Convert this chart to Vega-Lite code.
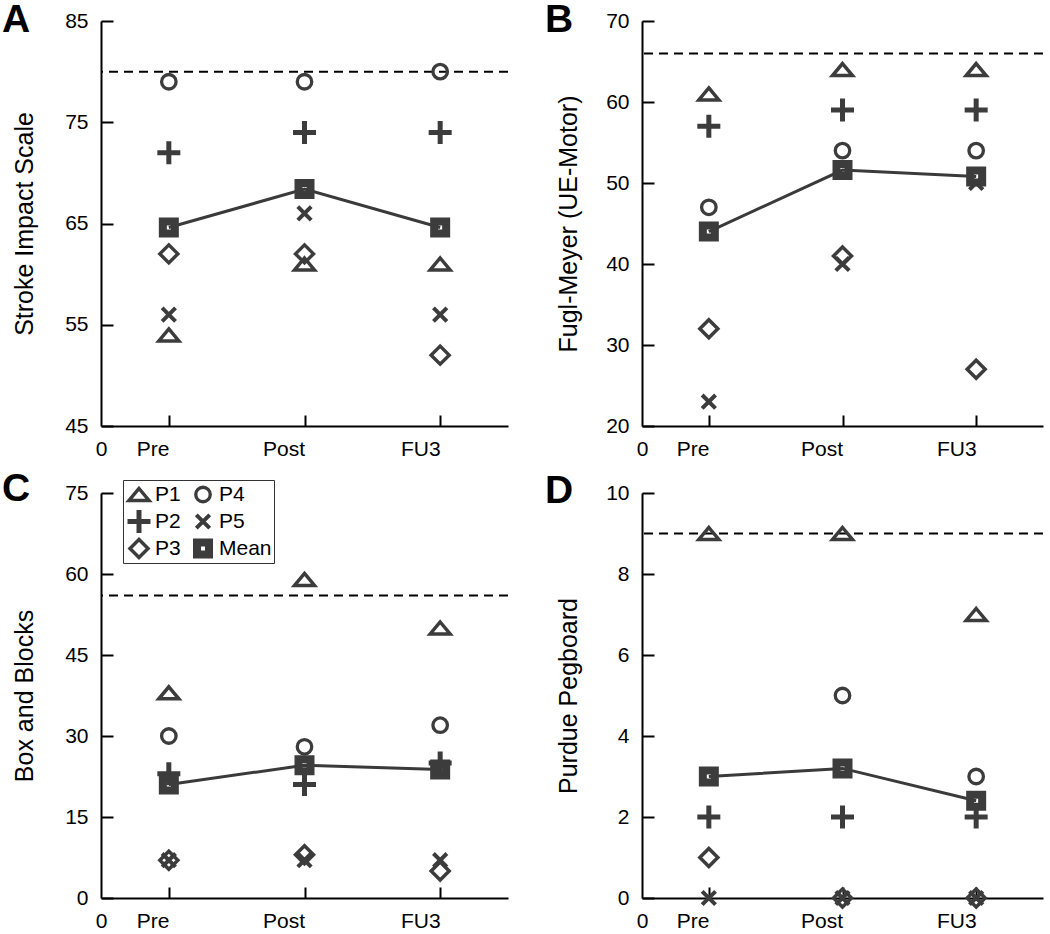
{
  "$schema": "https://vega.github.io/schema/vega-lite/v6.json",
  "padding": {"left": 2, "top": 1, "right": 0, "bottom": 0},
  "background": "white",
  "datasets": {
    "scores": [
      {"measure": "A", "visit": "Pre", "participant": "P1", "score": 54},
      {"measure": "A", "visit": "Pre", "participant": "P2", "score": 72},
      {"measure": "A", "visit": "Pre", "participant": "P3", "score": 62},
      {"measure": "A", "visit": "Pre", "participant": "P4", "score": 79},
      {"measure": "A", "visit": "Pre", "participant": "P5", "score": 56},
      {"measure": "A", "visit": "Pre", "participant": "Mean", "score": 64.6},
      {"measure": "A", "visit": "Post", "participant": "P1", "score": 61},
      {"measure": "A", "visit": "Post", "participant": "P2", "score": 74},
      {"measure": "A", "visit": "Post", "participant": "P3", "score": 62},
      {"measure": "A", "visit": "Post", "participant": "P4", "score": 79},
      {"measure": "A", "visit": "Post", "participant": "P5", "score": 66},
      {"measure": "A", "visit": "Post", "participant": "Mean", "score": 68.4},
      {"measure": "A", "visit": "FU3", "participant": "P1", "score": 61},
      {"measure": "A", "visit": "FU3", "participant": "P2", "score": 74},
      {"measure": "A", "visit": "FU3", "participant": "P3", "score": 52},
      {"measure": "A", "visit": "FU3", "participant": "P4", "score": 80},
      {"measure": "A", "visit": "FU3", "participant": "P5", "score": 56},
      {"measure": "A", "visit": "FU3", "participant": "Mean", "score": 64.6},
      {"measure": "B", "visit": "Pre", "participant": "P1", "score": 61},
      {"measure": "B", "visit": "Pre", "participant": "P2", "score": 57},
      {"measure": "B", "visit": "Pre", "participant": "P3", "score": 32},
      {"measure": "B", "visit": "Pre", "participant": "P4", "score": 47},
      {"measure": "B", "visit": "Pre", "participant": "P5", "score": 23},
      {"measure": "B", "visit": "Pre", "participant": "Mean", "score": 44},
      {"measure": "B", "visit": "Post", "participant": "P1", "score": 64},
      {"measure": "B", "visit": "Post", "participant": "P2", "score": 59},
      {"measure": "B", "visit": "Post", "participant": "P3", "score": 41},
      {"measure": "B", "visit": "Post", "participant": "P4", "score": 54},
      {"measure": "B", "visit": "Post", "participant": "P5", "score": 40},
      {"measure": "B", "visit": "Post", "participant": "Mean", "score": 51.6},
      {"measure": "B", "visit": "FU3", "participant": "P1", "score": 64},
      {"measure": "B", "visit": "FU3", "participant": "P2", "score": 59},
      {"measure": "B", "visit": "FU3", "participant": "P3", "score": 27},
      {"measure": "B", "visit": "FU3", "participant": "P4", "score": 54},
      {"measure": "B", "visit": "FU3", "participant": "P5", "score": 50},
      {"measure": "B", "visit": "FU3", "participant": "Mean", "score": 50.8},
      {"measure": "C", "visit": "Pre", "participant": "P1", "score": 38},
      {"measure": "C", "visit": "Pre", "participant": "P2", "score": 23},
      {"measure": "C", "visit": "Pre", "participant": "P3", "score": 7},
      {"measure": "C", "visit": "Pre", "participant": "P4", "score": 30},
      {"measure": "C", "visit": "Pre", "participant": "P5", "score": 7},
      {"measure": "C", "visit": "Pre", "participant": "Mean", "score": 21},
      {"measure": "C", "visit": "Post", "participant": "P1", "score": 59},
      {"measure": "C", "visit": "Post", "participant": "P2", "score": 21},
      {"measure": "C", "visit": "Post", "participant": "P3", "score": 8},
      {"measure": "C", "visit": "Post", "participant": "P4", "score": 28},
      {"measure": "C", "visit": "Post", "participant": "P5", "score": 7},
      {"measure": "C", "visit": "Post", "participant": "Mean", "score": 24.6},
      {"measure": "C", "visit": "FU3", "participant": "P1", "score": 50},
      {"measure": "C", "visit": "FU3", "participant": "P2", "score": 25},
      {"measure": "C", "visit": "FU3", "participant": "P3", "score": 5},
      {"measure": "C", "visit": "FU3", "participant": "P4", "score": 32},
      {"measure": "C", "visit": "FU3", "participant": "P5", "score": 7},
      {"measure": "C", "visit": "FU3", "participant": "Mean", "score": 23.8},
      {"measure": "D", "visit": "Pre", "participant": "P1", "score": 9},
      {"measure": "D", "visit": "Pre", "participant": "P2", "score": 2},
      {"measure": "D", "visit": "Pre", "participant": "P3", "score": 1},
      {"measure": "D", "visit": "Pre", "participant": "P4", "score": 3},
      {"measure": "D", "visit": "Pre", "participant": "P5", "score": 0},
      {"measure": "D", "visit": "Pre", "participant": "Mean", "score": 3},
      {"measure": "D", "visit": "Post", "participant": "P1", "score": 9},
      {"measure": "D", "visit": "Post", "participant": "P2", "score": 2},
      {"measure": "D", "visit": "Post", "participant": "P3", "score": 0},
      {"measure": "D", "visit": "Post", "participant": "P4", "score": 5},
      {"measure": "D", "visit": "Post", "participant": "P5", "score": 0},
      {"measure": "D", "visit": "Post", "participant": "Mean", "score": 3.2},
      {"measure": "D", "visit": "FU3", "participant": "P1", "score": 7},
      {"measure": "D", "visit": "FU3", "participant": "P2", "score": 2},
      {"measure": "D", "visit": "FU3", "participant": "P3", "score": 0},
      {"measure": "D", "visit": "FU3", "participant": "P4", "score": 3},
      {"measure": "D", "visit": "FU3", "participant": "P5", "score": 0},
      {"measure": "D", "visit": "FU3", "participant": "Mean", "score": 2.4}
    ],
    "norms": [
      {"measure": "A", "norm": 80},
      {"measure": "B", "norm": 66},
      {"measure": "C", "norm": 56},
      {"measure": "D", "norm": 9}
    ]
  },
  "columns": 2,
  "spacing": {"row": 10, "column": 36},
  "resolve": {"legend": {"shape": "independent", "size": "independent", "strokeWidth": "independent"}},
  "concat": [
    {
      "width": 407, "height": 405,
      "title": {"text": "A", "anchor": "start", "frame": "group", "orient": "top", "offset": -38, "dy": 23, "fontSize": 39, "fontWeight": "bold", "color": "black", "align": "left", "baseline": "alphabetic", "dx": -99},
      "layer": [
        {"data": {"name": "norms"}, "transform": [{"filter": "datum.measure == 'A'"}],
         "mark": {"type": "rule", "strokeDash": [9, 6], "strokeWidth": 2, "color": "black"},
         "encoding": {"y": {"field": "norm", "type": "quantitative", "scale": {"domain": [45, 85], "nice": false, "zero": false}}}},
        {"data": {"name": "scores"}, "transform": [{"filter": "datum.measure == 'A' && datum.participant == 'Mean'"}],
         "mark": {"type": "line", "color": "#3a3a3a", "strokeWidth": 3},
         "encoding": {
           "x": {"field": "visit", "type": "ordinal", "scale": {"type": "point", "domain": ["Pre", "Post", "FU3"], "padding": 0.5}},
           "y": {"field": "score", "type": "quantitative"},
           "order": {"value": null}}},
        {"data": {"name": "scores"}, "transform": [{"filter": "datum.measure == 'A'"}],
         "mark": {"type": "point", "filled": false, "color": "#3c3c3c", "opacity": 1},
         "encoding": {
           "x": {"field": "visit", "type": "ordinal", "scale": {"type": "point", "domain": ["Pre", "Post", "FU3"], "padding": 0.5},
                 "axis": {"title": "0", "labelAngle": 0, "tickSize": -11, "labelPadding": 34, "titleAnchor": "start", "titleAlign": "center", "titleBaseline": "top", "titlePadding": -21, "titleFontSize": 21}},
           "y": {"field": "score", "type": "quantitative", "scale": {"domain": [45, 85], "nice": false, "zero": false},
                 "axis": {"title": "Stroke Impact Scale", "values": [45, 55, 65, 75, 85], "tickSize": -12, "labelPadding": 25, "titlePadding": 27}},
           "shape": {"field": "participant", "type": "nominal", "legend": null,
                     "scale": {"domain": ["P1", "P2", "P3", "P4", "P5", "Mean"], "range": ["M0,-0.6L1,0.6L-1,0.6Z", "M-1,0H1M0,-1V1", "diamond", "circle", "M-1,-1L1,1M1,-1L-1,1", "square"]}},
           "size": {"field": "participant", "type": "ordinal", "legend": null,
                    "scale": {"type": "ordinal", "domain": ["P1", "P2", "P3", "P4", "P5", "Mean"], "range": [400, 529, 324, 210, 180, 144]}},
           "strokeWidth": {"field": "participant", "type": "ordinal", "legend": null,
                    "scale": {"type": "ordinal", "domain": ["P1", "P2", "P3", "P4", "P5", "Mean"], "range": [3.5, 5, 3.5, 3.3, 4, 8]}}
         }}
      ]
    },
    {
      "width": 401, "height": 405,
      "title": {"text": "B", "anchor": "start", "frame": "group", "orient": "top", "offset": -38, "dy": 23, "fontSize": 39, "fontWeight": "bold", "color": "black", "align": "left", "baseline": "alphabetic", "dx": -97},
      "layer": [
        {"data": {"name": "norms"}, "transform": [{"filter": "datum.measure == 'B'"}],
         "mark": {"type": "rule", "strokeDash": [9, 6], "strokeWidth": 2, "color": "black"},
         "encoding": {"y": {"field": "norm", "type": "quantitative", "scale": {"domain": [20, 70], "nice": false, "zero": false}}}},
        {"data": {"name": "scores"}, "transform": [{"filter": "datum.measure == 'B' && datum.participant == 'Mean'"}],
         "mark": {"type": "line", "color": "#3a3a3a", "strokeWidth": 3},
         "encoding": {
           "x": {"field": "visit", "type": "ordinal", "scale": {"type": "point", "domain": ["Pre", "Post", "FU3"], "padding": 0.5}},
           "y": {"field": "score", "type": "quantitative"},
           "order": {"value": null}}},
        {"data": {"name": "scores"}, "transform": [{"filter": "datum.measure == 'B'"}],
         "mark": {"type": "point", "filled": false, "color": "#3c3c3c", "opacity": 1},
         "encoding": {
           "x": {"field": "visit", "type": "ordinal", "scale": {"type": "point", "domain": ["Pre", "Post", "FU3"], "padding": 0.5},
                 "axis": {"title": "0", "labelAngle": 0, "tickSize": -11, "labelPadding": 34, "titleAnchor": "start", "titleAlign": "center", "titleBaseline": "top", "titlePadding": -21, "titleFontSize": 21}},
           "y": {"field": "score", "type": "quantitative", "scale": {"domain": [20, 70], "nice": false, "zero": false},
                 "axis": {"title": "Fugl-Meyer (UE-Motor)", "values": [20, 30, 40, 50, 60, 70], "tickSize": -12, "labelPadding": 25, "titlePadding": 24}},
           "shape": {"field": "participant", "type": "nominal", "legend": null,
                     "scale": {"domain": ["P1", "P2", "P3", "P4", "P5", "Mean"], "range": ["M0,-0.6L1,0.6L-1,0.6Z", "M-1,0H1M0,-1V1", "diamond", "circle", "M-1,-1L1,1M1,-1L-1,1", "square"]}},
           "size": {"field": "participant", "type": "ordinal", "legend": null,
                    "scale": {"type": "ordinal", "domain": ["P1", "P2", "P3", "P4", "P5", "Mean"], "range": [400, 529, 324, 210, 180, 144]}},
           "strokeWidth": {"field": "participant", "type": "ordinal", "legend": null,
                    "scale": {"type": "ordinal", "domain": ["P1", "P2", "P3", "P4", "P5", "Mean"], "range": [3.5, 5, 3.5, 3.3, 4, 8]}}
         }}
      ]
    },
    {
      "width": 407, "height": 405,
      "title": {"text": "C", "anchor": "start", "frame": "group", "orient": "top", "offset": -37, "dy": 23, "fontSize": 39, "fontWeight": "bold", "color": "black", "align": "left", "baseline": "alphabetic", "dx": -99},
      "layer": [
        {"data": {"name": "norms"}, "transform": [{"filter": "datum.measure == 'C'"}],
         "mark": {"type": "rule", "strokeDash": [9, 6], "strokeWidth": 2, "color": "black"},
         "encoding": {"y": {"field": "norm", "type": "quantitative", "scale": {"domain": [0, 75], "nice": false, "zero": false}}}},
        {"data": {"name": "scores"}, "transform": [{"filter": "datum.measure == 'C' && datum.participant == 'Mean'"}],
         "mark": {"type": "line", "color": "#3a3a3a", "strokeWidth": 3},
         "encoding": {
           "x": {"field": "visit", "type": "ordinal", "scale": {"type": "point", "domain": ["Pre", "Post", "FU3"], "padding": 0.5}},
           "y": {"field": "score", "type": "quantitative"},
           "order": {"value": null}}},
        {"data": {"name": "scores"}, "transform": [{"filter": "datum.measure == 'C'"}],
         "mark": {"type": "point", "filled": false, "color": "#3c3c3c", "opacity": 1},
         "encoding": {
           "x": {"field": "visit", "type": "ordinal", "scale": {"type": "point", "domain": ["Pre", "Post", "FU3"], "padding": 0.5},
                 "axis": {"title": "0", "labelAngle": 0, "tickSize": -11, "labelPadding": 34, "titleAnchor": "start", "titleAlign": "center", "titleBaseline": "top", "titlePadding": -21, "titleFontSize": 21}},
           "y": {"field": "score", "type": "quantitative", "scale": {"domain": [0, 75], "nice": false, "zero": false},
                 "axis": {"title": "Box and Blocks", "values": [0, 15, 30, 45, 60, 75], "tickSize": -12, "labelPadding": 25, "titlePadding": 27}},
           "shape": {"field": "participant", "type": "nominal",
                     "legend": {"title": null, "orient": "none", "legendX": 22, "legendY": -13, "columns": 2, "direction": "vertical",
                                "strokeColor": "#333333", "padding": 2, "rowPadding": 2, "columnPadding": 8, "clipHeight": 25,
                                "labelFontSize": 21, "labelColor": "black", "labelOffset": 2,
                                "symbolStrokeColor": "#3c3c3c", "symbolFillColor": "transparent"},
                     "scale": {"domain": ["P1", "P2", "P3", "P4", "P5", "Mean"], "range": ["M0,-0.6L1,0.6L-1,0.6Z", "M-1,0H1M0,-1V1", "diamond", "circle", "M-1,-1L1,1M1,-1L-1,1", "square"]}},
           "size": {"field": "participant", "type": "ordinal",
                    "scale": {"type": "ordinal", "domain": ["P1", "P2", "P3", "P4", "P5", "Mean"], "range": [400, 529, 324, 210, 180, 144]}},
           "strokeWidth": {"field": "participant", "type": "ordinal",
                    "scale": {"type": "ordinal", "domain": ["P1", "P2", "P3", "P4", "P5", "Mean"], "range": [3.5, 5, 3.5, 3.3, 4, 8]}}
         }}
      ]
    },
    {
      "width": 401, "height": 405,
      "title": {"text": "D", "anchor": "start", "frame": "group", "orient": "top", "offset": -37, "dy": 23, "fontSize": 39, "fontWeight": "bold", "color": "black", "align": "left", "baseline": "alphabetic", "dx": -97},
      "layer": [
        {"data": {"name": "norms"}, "transform": [{"filter": "datum.measure == 'D'"}],
         "mark": {"type": "rule", "strokeDash": [9, 6], "strokeWidth": 2, "color": "black"},
         "encoding": {"y": {"field": "norm", "type": "quantitative", "scale": {"domain": [0, 10], "nice": false, "zero": false}}}},
        {"data": {"name": "scores"}, "transform": [{"filter": "datum.measure == 'D' && datum.participant == 'Mean'"}],
         "mark": {"type": "line", "color": "#3a3a3a", "strokeWidth": 3},
         "encoding": {
           "x": {"field": "visit", "type": "ordinal", "scale": {"type": "point", "domain": ["Pre", "Post", "FU3"], "padding": 0.5}},
           "y": {"field": "score", "type": "quantitative"},
           "order": {"value": null}}},
        {"data": {"name": "scores"}, "transform": [{"filter": "datum.measure == 'D'"}],
         "mark": {"type": "point", "filled": false, "color": "#3c3c3c", "opacity": 1},
         "encoding": {
           "x": {"field": "visit", "type": "ordinal", "scale": {"type": "point", "domain": ["Pre", "Post", "FU3"], "padding": 0.5},
                 "axis": {"title": "0", "labelAngle": 0, "tickSize": -11, "labelPadding": 34, "titleAnchor": "start", "titleAlign": "center", "titleBaseline": "top", "titlePadding": -21, "titleFontSize": 21}},
           "y": {"field": "score", "type": "quantitative", "scale": {"domain": [0, 10], "nice": false, "zero": false},
                 "axis": {"title": "Purdue Pegboard", "values": [0, 2, 4, 6, 8, 10], "tickSize": -12, "labelPadding": 25, "titlePadding": 24}},
           "shape": {"field": "participant", "type": "nominal", "legend": null,
                     "scale": {"domain": ["P1", "P2", "P3", "P4", "P5", "Mean"], "range": ["M0,-0.6L1,0.6L-1,0.6Z", "M-1,0H1M0,-1V1", "diamond", "circle", "M-1,-1L1,1M1,-1L-1,1", "square"]}},
           "size": {"field": "participant", "type": "ordinal", "legend": null,
                    "scale": {"type": "ordinal", "domain": ["P1", "P2", "P3", "P4", "P5", "Mean"], "range": [400, 529, 324, 210, 180, 144]}},
           "strokeWidth": {"field": "participant", "type": "ordinal", "legend": null,
                    "scale": {"type": "ordinal", "domain": ["P1", "P2", "P3", "P4", "P5", "Mean"], "range": [3.5, 5, 3.5, 3.3, 4, 8]}}
         }}
      ]
    }
  ],
  "config": {
    "font": "Liberation Sans",
    "view": {"stroke": null},
    "axis": {
      "grid": false, "domainColor": "black", "domainWidth": 2, "tickColor": "black", "tickWidth": 2,
      "labelFontSize": 21, "labelColor": "black", "labelFont": "Liberation Sans",
      "titleFontSize": 25, "titleFontWeight": "normal", "titleColor": "black", "titleFont": "Liberation Sans"
    },
    "title": {"font": "Liberation Sans"},
    "legend": {"labelFont": "Liberation Sans"}
  }
}
